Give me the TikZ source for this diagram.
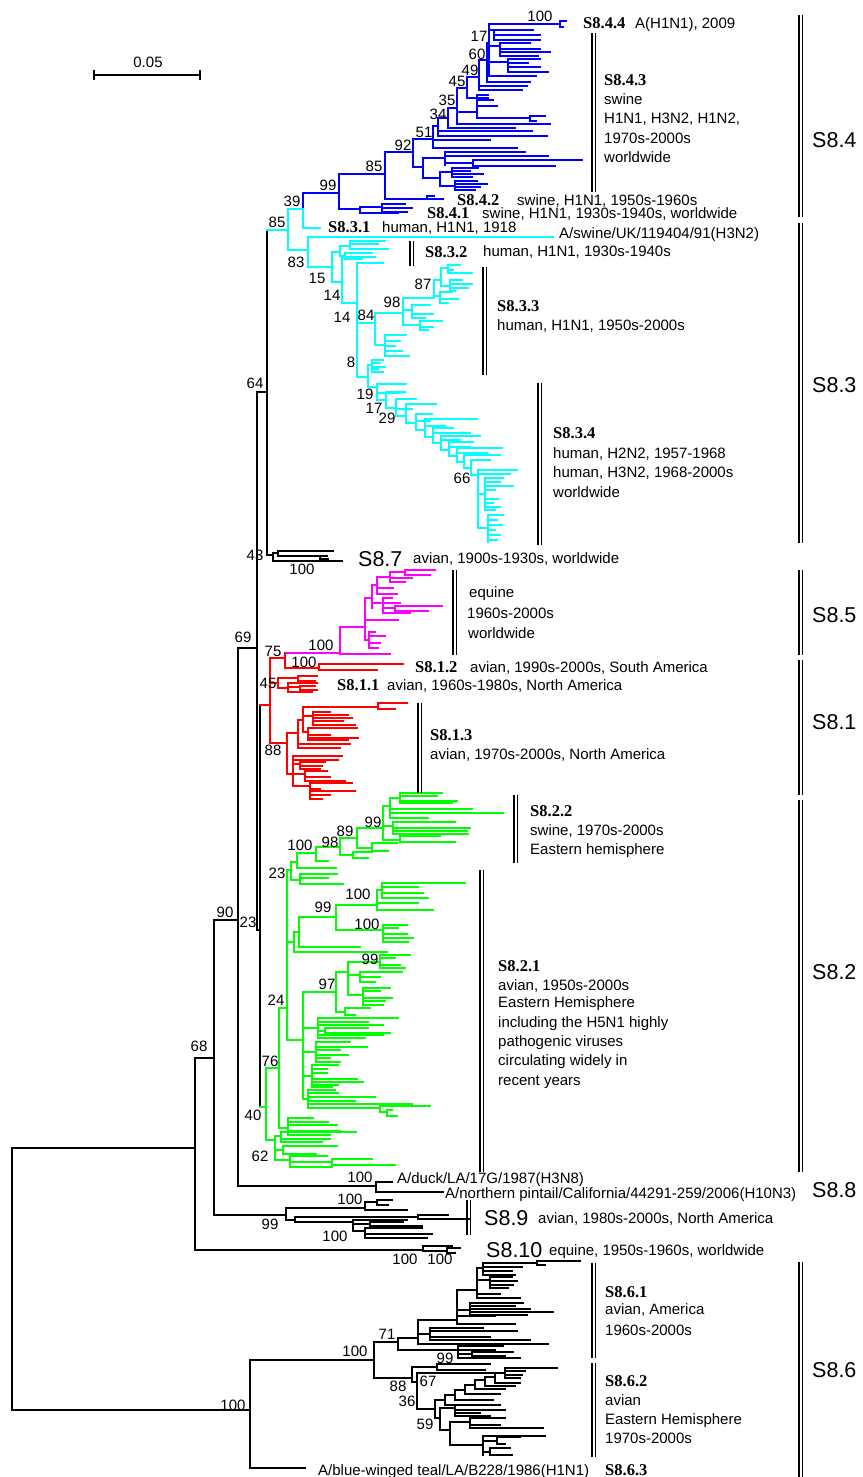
\documentclass[tikz,border=0pt]{standalone}
\usepackage{fontspec}
\setmainfont{Liberation Sans}
\newfontfamily\tnr{Liberation Serif}
\definecolor{cy}{RGB}{0,255,255}
\definecolor{mg}{RGB}{255,0,255}
\definecolor{rd}{RGB}{255,0,0}
\definecolor{gr}{RGB}{0,255,0}
\definecolor{bl}{RGB}{0,0,255}
\tikzset{
  tr/.style={line width=1.1pt, line cap=rect},
  bsv/.style={font=\fontsize{15}{18}\selectfont, inner sep=0pt, text height=10.7pt, text depth=0pt},
  lab/.style={bsv, anchor=west},
  boldlab/.style={font=\tnr\bfseries\fontsize{16.5}{18}\selectfont, inner sep=0pt, text height=10.9pt, text depth=0pt, anchor=west},
  big/.style={font=\fontsize{21.5}{24}\selectfont, inner sep=0pt, text height=15.4pt, text depth=0pt, anchor=west},
  barl/.style={line width=1.1pt},
}
\newcommand\comb[5][black]{%
  \draw[tr,#1] (#2,#3) -- (#2,#4);
  \foreach \yy/\xx in {#5} {\draw[tr,#1] (#2,\yy) -- (\xx,\yy);}%
}
\newcommand\dbar[3]{\draw[barl] (#1,#2) -- (#1,#3); \draw[barl] (#1+3.2,#2) -- (#1+3.2,#3);}
\begin{document}
\begin{tikzpicture}[x=1pt,y=-1pt]
\path[use as bounding box] (0,0) rectangle (862,1477);
% scale bar
\draw[line width=1.1pt] (94,75) -- (200,75);
\draw[line width=1.1pt] (94,70) -- (94,80);
\draw[line width=1.1pt] (200,70) -- (200,80);
\node[bsv] (scl) at (148,62) {0.05};

% ---------- black backbone ----------
\comb{12}{1148}{1410}{1148/195, 1410/250}
\comb{195}{1058}{1250}{1058/214, 1250/423}
\comb{214}{920}{1215}{920/238, 1215/286}
\comb{238}{648}{1186}{648/257, 1186/376}
\comb{257}{392}{930}{392/267, 930/260}
\draw[tr] (260,705) -- (260,1107);
\draw[tr,rd] (260,705) -- (270,705);
\draw[tr,gr] (260,1107) -- (266,1107);
\draw[tr] (267,230) -- (267,555);
\draw[tr,cy] (267,230) -- (288,230);
\draw[tr] (267,555) -- (273,555);
% S8.7
\comb{273}{553}{561}{553/278, 561/342}
\comb{278}{551}{556}{551/333, 556/327}
\comb{320}{556}{559}{559/328}
% S8.8
\comb{376}{1182}{1192}{1182/392, 1192/443}
% S8.9
\comb{286}{1208}{1220}{1208/365, 1220/295}
\comb{365}{1202}{1210}{1202/377, 1210/407}
\comb{377}{1200}{1205}{1200/392, 1205/388}
\comb{295}{1217}{1222}{1217/418, 1222/353}
\comb{418}{1215}{1219}{1215/448, 1219/470}
\comb{353}{1220}{1231}{1220/407, 1224/370, 1231/365}
\comb{370}{1222}{1226}{1222/403, 1226/422}
\comb{365}{1228}{1238}{1228/422, 1234/432, 1238/427}
% S8.10
\comb{423}{1246}{1251}{1246/452, 1251/447}
\comb{447}{1248}{1253}{1248/460, 1253/455}
% S8.6
\comb{250}{1360}{1468}{1360/374, 1468/305}
\comb{374}{1342}{1378}{1342/398, 1378/412}
\comb{398}{1338}{1350}{1338/418, 1350/458}
\comb{458}{1346}{1358}{1346/503, 1350/495, 1354/472, 1358/520}
\comb{472}{1352}{1356}{1352/513, 1356/505}
\comb{418}{1320}{1344}{1320/457, 1334/430, 1344/548}
\comb{430}{1328}{1340}{1328/483, 1331/517, 1337/490, 1340/530}
\comb{457}{1290}{1324}{1290/477, 1310/470, 1316/495, 1324/515}
\comb{477}{1268}{1298}{1268/483, 1280/490, 1294/500, 1298/520}
\comb{483}{1263}{1275}{1263/537, 1267/522, 1271/512, 1275/515}
\comb{537}{1261}{1265}{1261/580, 1265/545}
\comb{490}{1277}{1288}{1277/512, 1281/517, 1285/513, 1288/508}
\comb{470}{1303}{1315}{1303/523, 1306/515, 1309/530, 1312/553, 1315/527}
\comb{412}{1367}{1382}{1367/437, 1382/417}
\comb{437}{1364}{1370}{1364/490, 1370/485}
\comb{417}{1373}{1409}{1373/503, 1409/435}
\comb{435}{1400}{1418}{1400/445, 1418/440}
\comb{445}{1395}{1405}{1395/455, 1405/475}
\comb{455}{1390}{1400}{1390/465, 1400/493}
\comb{465}{1385}{1394}{1385/475, 1394/500}
\comb{475}{1380}{1389}{1380/485, 1389/505}
\comb{485}{1377}{1386}{1377/495, 1386/515}
\comb{495}{1373}{1383}{1373/505, 1383/520}
\comb{505}{1368}{1378}{1368/557, 1371/525, 1375/522, 1378/520}
\comb{440}{1408}{1430}{1408/455, 1430/450}
\comb{455}{1405}{1416}{1405/500, 1410/505, 1413/480, 1416/490}
\comb{450}{1422}{1445}{1422/470, 1445/483}
\comb{470}{1418}{1428}{1418/505, 1425/500, 1428/543}
\comb{483}{1436}{1455}{1436/545, 1441/497, 1452/490}
\comb{497}{1437}{1444}{1437/520, 1444/505}
\comb{490}{1448}{1455}{1448/510, 1455/512}

% ---------- blue S8.4 ----------
\draw[tr,bl] (303,193) -- (303,209);
\draw[tr,cy] (303,209) -- (303,228);
\draw[tr,bl] (303,193) -- (339,193);
\draw[tr,cy] (303,228) -- (320,228);
\comb[bl]{339}{174}{209}{174/385, 209/360}
\comb[bl]{360}{207}{213}{207/382, 213/398}
\comb[bl]{382}{204}{212}{204/405, 208/412, 212/407}
\comb[bl]{385}{152}{199}{152/413, 199/443}
\comb[bl]{427}{196}{199}{196/434}
\comb[bl]{413}{139}{167}{139/433, 167/423}
\comb[bl]{433}{126}{148}{126/438, 140/490, 148/517}
\comb[bl]{438}{118}{136}{118/448, 131/532, 136/547}
\comb[bl]{448}{108}{128}{108/457, 128/515}
\comb[bl]{457}{88}{124}{88/467, 112/477, 124/550}
\comb[bl]{477}{95}{118}{95/488, 100/493, 106/497, 118/530}
\comb[bl]{530}{116}{121}{116/545, 121/536}
\comb[bl]{467}{77}{98}{77/479, 98/488}
\comb[bl]{479}{60}{90}{60/487, 86/527, 90/522}
\comb[bl]{487}{43}{82}{43/489, 82/530}
\comb[bl]{489}{24}{76}{24/560, 30/494, 46/500, 62/508, 76/536}
\comb[bl]{494}{30}{40}{30/533, 35/540, 40/540}
\comb[bl]{500}{43}{56}{43/530, 49/540, 52/550, 56/538}
\comb[bl]{508}{59}{72}{59/540, 63/528, 67/540, 72/548}
\comb[bl]{560}{21}{27}{21/566, 27/563}
\comb[bl]{423}{158}{178}{158/445, 178/440}
\comb[bl]{445}{152}{165}{152/525, 156/548, 163/473}
\comb[bl]{473}{160}{166}{160/582, 166/555}
\comb[bl]{440}{172}{186}{172/452, 186/455}
\comb[bl]{452}{168}{177}{168/478, 171/470, 174/483, 177/472}
\comb[bl]{455}{181}{190}{181/477, 184/487, 187/480, 190/475}

% ---------- cyan S8.3 ----------
\comb[cy]{288}{209}{250}{209/303, 250/308}
\comb[cy]{308}{237}{267}{237/553, 267/332}
\comb[cy]{332}{252}{282}{252/340, 282/342}
\comb[cy]{340}{246}{256}{246/350, 256/345}
\comb[cy]{350}{241}{249}{241/385, 244/378, 249/388}
\comb[cy]{345}{253}{259}{253/372, 259/362}
\comb[cy]{342}{257}{303}{257/375, 303/357}
\comb[cy]{357}{263}{377}{263/383, 323/375, 377/368}
\comb[cy]{375}{313}{345}{313/403, 345/385}
\comb[cy]{385}{335}{356}{335/406, 341/400, 346/395, 351/402, 356/409}
\comb[cy]{403}{298}{325}{298/434, 310/412, 325/420}
\comb[cy]{412}{305}{318}{305/430, 314/433, 318/425}
\comb[cy]{420}{321}{330}{321/442, 327/433, 330/428}
\comb[cy]{434}{280}{298}{280/441, 296/440}
\comb[cy]{441}{268}{286}{268/448, 286/450}
\comb[cy]{448}{265}{273}{265/460, 270/453, 273/472}
\comb[cy]{450}{280}{291}{280/462, 284/472, 288/468, 291/455}
\comb[cy]{440}{292}{303}{292/452, 299/458, 303/448}
\comb[cy]{368}{365}{387}{365/372, 387/377}
\comb[cy]{372}{360}{372}{360/383, 363/380, 367/385, 369/378, 372/383}
\foreach \x/\yt/\yb/\xl/\xn in {
  377/384/400/406/386, 386/392/408/405/396, 396/399/416/416/406, 406/404/423/436/416,
  416/414/430/432/425, 425/419/437/477/433, 433/428/443/453/441, 441/436/450/480/449,
  449/442/456/473/457, 457/448/462/502/464, 464/455/468/500/471, 471/460/475/490/478}
{\draw[tr,cy] (\x,\yt) -- (\x,\yb); \draw[tr,cy] (\x,\yt) -- (\xl,\yt); \draw[tr,cy] (\x,\yb) -- (\xn,\yb);}
\foreach \x/\y/\e in {377/393/400, 396/409/412, 416/421/430, 433/433/470, 449/447/470, 457/453/487, 441/440/460, 425/426/445}
{\draw[tr,cy] (\x,\y) -- (\e,\y);}
\comb[cy]{478}{470}{528}{470/517, 474/510, 494/485, 528/488}
\comb[cy]{485}{478}{510}{478/503, 482/500, 486/513, 490/495, 499/498, 503/493, 507/500, 510/495}
\comb[cy]{488}{515}{542}{515/503, 520/497, 525/502, 530/495, 535/500, 540/497}

% ---------- magenta S8.5 ----------
\comb[mg]{340}{627}{654}{627/365, 654/390}
\comb[mg]{365}{598}{640}{598/372, 620/398, 640/369}
\comb[mg]{369}{632}{648}{632/375, 636/385, 643/380, 648/378}
\comb[mg]{372}{585}{608}{585/377, 603/383}
\comb[mg]{377}{577}{594}{577/390, 588/393, 594/397}
\comb[mg]{390}{572}{582}{572/405, 578/412, 582/405}
\comb[mg]{405}{570}{575}{570/435, 575/430}
\comb[mg]{383}{598}{613}{598/392, 603/400, 608/395, 613/410}
\comb[mg]{395}{606}{611}{606/442, 611/428}
\draw[tr,mg] (285,653) -- (340,653);

% ---------- red S8.1 ----------
\comb[rd]{270}{658}{743}{658/285, 683/278, 743/287}
\comb[rd]{285}{653}{668}{668/319}
\comb[rd]{319}{664}{670}{664/403, 670/377}
\comb[rd]{278}{678}{688}{678/298, 688/288}
\comb[rd]{298}{676}{681}{676/317, 681/315}
\comb[rd]{288}{683}{692}{683/317, 687/300, 692/312}
\comb[rd]{300}{686}{690}{686/315, 690/317}
\comb[rd]{287}{733}{774}{733/298, 774/293}
\comb[rd]{298}{720}{748}{720/303, 744/350, 748/340}
\comb[rd]{303}{707}{732}{707/378, 716/313, 732/308}
\comb[rd]{378}{703}{709}{703/407, 709/395}
\comb[rd]{313}{712}{725}{712/330, 715/348, 718/352, 721/343, 725/355}
\comb[rd]{308}{728}{740}{728/357, 735/330, 738/358, 740/348}
\comb[rd]{293}{756}{786}{756/342, 760/338, 764/300, 774/305, 786/310}
\comb[rd]{300}{762}{769}{762/325, 766/322, 769/320}
\comb[rd]{305}{771}{781}{771/327, 777/330, 781/345}
\comb[rd]{310}{783}{799}{783/352, 789/320, 791/355, 795/330, 799/322}

% ---------- green S8.2 ----------
\comb[gr]{266}{1068}{1140}{1068/279, 1140/275}
\comb[gr]{279}{1008}{1128}{1008/287, 1128/288}
\comb[gr]{287}{870}{1040}{870/291, 942/294, 1040/303}
\comb[gr]{291}{862}{880}{862/297, 880/300}
\comb[gr]{297}{853}{868}{853/316, 868/336}
\comb[gr]{300}{874}{884}{874/337, 878/328, 884/343}
\comb[gr]{316}{847}{861}{847/340, 861/328}
\comb[gr]{340}{838}{855}{838/357, 855/353}
\comb[gr]{353}{852}{858}{852/372, 858/368}
\comb[gr]{357}{828}{848}{828/383, 848/372}
\comb[gr]{372}{843}{851}{843/397, 851/388}
\comb[gr]{383}{806}{840}{806/390, 826/393, 840/400}
\comb[gr]{390}{798}{818}{798/400, 809/472, 813/503, 818/428}
\comb[gr]{400}{793}{803}{793/442, 796/437, 801/457, 803/452}
\comb[gr]{393}{822}{834}{822/455, 828/470, 831/467, 834/468}
\comb[gr]{400}{836}{842}{836/440, 842/455}
\comb[gr]{294}{932}{952}{932/299, 952/387}
\comb[gr]{299}{917}{947}{917/336, 947/360}
\comb[gr]{336}{905}{930}{905/377, 930/383}
\comb[gr]{377}{890}{910}{890/382, 903/418, 910/433}
\comb[gr]{382}{883}{898}{883/465, 887/418, 893/423, 898/428}
\comb[gr]{383}{925}{942}{925/407, 928/398, 934/407, 938/413, 942/408}
\comb[gr]{336}{972}{1012}{972/348, 1012/345}
\comb[gr]{348}{962}{995}{962/380, 975/360, 995/363}
\comb[gr]{380}{955}{968}{955/410, 958/395, 965/400, 968/405}
\comb[gr]{360}{972}{982}{972/402, 977/380, 982/375}
\comb[gr]{363}{988}{1005}{988/390, 991/380, 998/392, 1001/385, 1005/383}
\comb[gr]{345}{1008}{1015}{1008/370, 1015/355}
\comb[gr]{303}{992}{1099}{992/336, 1028/318, 1052/316, 1076/312, 1099/308}
\comb[gr]{318}{1018}{1038}{1018/398, 1022/368, 1025/383, 1031/325, 1035/383, 1038/365}
\comb[gr]{325}{1028}{1033}{1028/368, 1033/390}
\comb[gr]{316}{1042}{1062}{1042/350, 1047/367, 1050/340, 1055/348, 1058/330, 1062/340}
\comb[gr]{312}{1065}{1087}{1065/338, 1069/327, 1073/327, 1079/357, 1082/363, 1085/338, 1087/332}
\comb[gr]{308}{1090}{1108}{1090/335, 1093/338, 1097/375, 1101/355, 1104/412, 1108/380}
\comb[gr]{380}{1106}{1112}{1106/430, 1112/387}
\comb[gr]{387}{1110}{1116}{1110/392, 1116/397}
\comb[gr]{288}{1118}{1135}{1118/313, 1122/328, 1125/337, 1131/340, 1135/330}
\comb[gr]{275}{1136}{1160}{1136/281, 1150/283, 1160/290}
\comb[gr]{281}{1132}{1142}{1132/356, 1139/330, 1142/322}
\comb[gr]{283}{1146}{1154}{1146/337, 1154/316}
\comb[gr]{290}{1156}{1167}{1156/327, 1162/332, 1167/332}
\comb[gr]{332}{1159}{1165}{1159/372, 1165/395}

% ---------- bootstrap values ----------
\foreach \t/\x/\y [count=\i] in {
 100/540/16, 17/479/36, 60/477/54, 49/470/70, 45/457/81, 35/447/100, 34/438/114,
 51/424/132, 92/403/145, 85/374/166, 99/328/185, 39/292/201,
 85/277/222, 83/296/262, 15/317/278, 14/332/295, 14/342/317, 84/366/315, 98/392/302,
 87/423/284, 8/351/362, 19/365/394, 17/374/408, 29/387/418, 66/462/478,
 64/255/383, 43/255/555, 100/302/569, 69/243/637,
 100/321/645, 75/273/651, 100/304/662, 45/268/683, 88/273/750,
 100/300/845, 98/330/842, 89/345/831, 99/373/822, 23/277/873, 100/358/894,
 99/323/907, 100/367/924, 99/370/959, 97/327/984, 24/276/1000, 76/270/1061, 62/260/1156,
 90/225/912, 23/248/922, 68/199/1046, 40/253/1115,
 100/360/1177, 100/350/1199, 99/270/1224, 100/335/1236, 100/405/1259, 100/440/1259,
 100/355/1351, 71/387/1334, 99/445/1358, 67/428/1381, 88/398/1386, 36/407/1401,
 59/425/1424, 100/233/1405}
{\node[bsv] (bs\i) at (\x,\y) {\t};}

% ---------- clade bars ----------
\dbar{592}{33}{192}
\dbar{410}{241}{266}
\dbar{483}{267}{375}
\dbar{538}{383}{545}
\dbar{453}{570}{655}
\dbar{418}{703}{793}
\dbar{514}{795}{863}
\dbar{480}{870}{1172}
\dbar{467}{1200}{1235}
\dbar{592}{1263}{1358}
\dbar{592}{1363}{1457}
\dbar{799}{15}{217}
\dbar{799}{223}{543}
\dbar{799}{570}{655}
\dbar{799}{660}{795}
\dbar{799}{800}{1172}
\dbar{799}{1262}{1477}

% ---------- texts ----------
\node[boldlab] (b844) at (583,23) {S8.4.4};
\node[lab] (t844) at (635,23) {A(H1N1), 2009};
\node[boldlab] (b843) at (604,80) {S8.4.3};
\node[lab] (t843a) at (604,99) {swine};
\node[lab] (t843b) at (604,118) {H1N1, H3N2, H1N2,};
\node[lab] (t843c) at (604,138) {1970s-2000s};
\node[lab] (t843d) at (604,157) {worldwide};
\node[boldlab] (b842) at (457,200) {S8.4.2};
\node[lab] (t842) at (517,200) {swine, H1N1, 1950s-1960s};
\node[boldlab] (b841) at (427,213) {S8.4.1};
\node[lab] (t841) at (482,213) {swine, H1N1, 1930s-1940s, worldwide};
\node[boldlab] (b831) at (328,227) {S8.3.1};
\node[lab] (t831) at (382,227) {human, H1N1, 1918};
\node[lab] (tuk) at (559,233) {A/swine/UK/119404/91(H3N2)};
\node[boldlab] (b832) at (425,252) {S8.3.2};
\node[lab] (t832) at (483,251) {human, H1N1, 1930s-1940s};
\node[boldlab] (b833) at (497,306) {S8.3.3};
\node[lab] (t833) at (497,325) {human, H1N1, 1950s-2000s};
\node[boldlab] (b834) at (553,433) {S8.3.4};
\node[lab] (t834a) at (553,453) {human, H2N2, 1957-1968};
\node[lab] (t834b) at (553,472) {human, H3N2, 1968-2000s};
\node[lab] (t834c) at (553,492) {worldwide};
\node[big] (b87) at (358,559) {S8.7};
\node[lab] (t87) at (413,558) {avian, 1900s-1930s, worldwide};
\node[lab] (t85a) at (469,592) {equine};
\node[lab] (t85b) at (467,613) {1960s-2000s};
\node[lab] (t85c) at (468,633) {worldwide};
\node[boldlab] (b812) at (415,667) {S8.1.2};
\node[lab] (t812) at (470,667) {avian, 1990s-2000s, South America};
\node[boldlab] (b811) at (337,685) {S8.1.1};
\node[lab] (t811) at (387,685) {avian, 1960s-1980s, North America};
\node[boldlab] (b813) at (430,735) {S8.1.3};
\node[lab] (t813) at (430,754) {avian, 1970s-2000s, North America};
\node[boldlab] (b822) at (530,811) {S8.2.2};
\node[lab] (t822a) at (530,830) {swine, 1970s-2000s};
\node[lab] (t822b) at (530,849) {Eastern hemisphere};
\node[boldlab] (b821) at (498,966) {S8.2.1};
\node[lab] (t821a) at (498,985) {avian, 1950s-2000s};
\node[lab] (t821b) at (498,1002) {Eastern Hemisphere};
\node[lab] (t821c) at (498,1022) {including the H5N1 highly};
\node[lab] (t821d) at (498,1041) {pathogenic viruses};
\node[lab] (t821e) at (498,1060) {circulating widely in};
\node[lab] (t821f) at (498,1080) {recent years};
\node[lab] (tduck) at (397,1178) {A/duck/LA/17G/1987(H3N8)};
\node[lab] (tpin) at (445,1193) {A/northern pintail/California/44291-259/2006(H10N3)};
\node[big] (b89) at (484,1218) {S8.9};
\node[lab] (t89) at (538,1218) {avian, 1980s-2000s, North America};
\node[big] (b810) at (486,1250) {S8.10};
\node[lab] (t810) at (549,1250) {equine, 1950s-1960s, worldwide};
\node[boldlab] (b861) at (605,1292) {S8.6.1};
\node[lab] (t861a) at (605,1309) {avian, America};
\node[lab] (t861b) at (605,1330) {1960s-2000s};
\node[boldlab] (b862) at (605,1381) {S8.6.2};
\node[lab] (t862a) at (605,1400) {avian};
\node[lab] (t862b) at (605,1419) {Eastern Hemisphere};
\node[lab] (t862c) at (605,1438) {1970s-2000s};
\node[lab] (tteal) at (318,1470) {A/blue-winged teal/LA/B228/1986(H1N1)};
\node[boldlab] (b863) at (605,1470) {S8.6.3};
\node[big] (r84) at (812,140) {S8.4};
\node[big] (r83) at (812,385) {S8.3};
\node[big] (r85) at (812,615) {S8.5};
\node[big] (r81) at (812,722) {S8.1};
\node[big] (r82) at (812,972) {S8.2};
\node[big] (r88) at (812,1190) {S8.8};
\node[big] (r86) at (812,1370) {S8.6};
\end{tikzpicture}
\end{document}
